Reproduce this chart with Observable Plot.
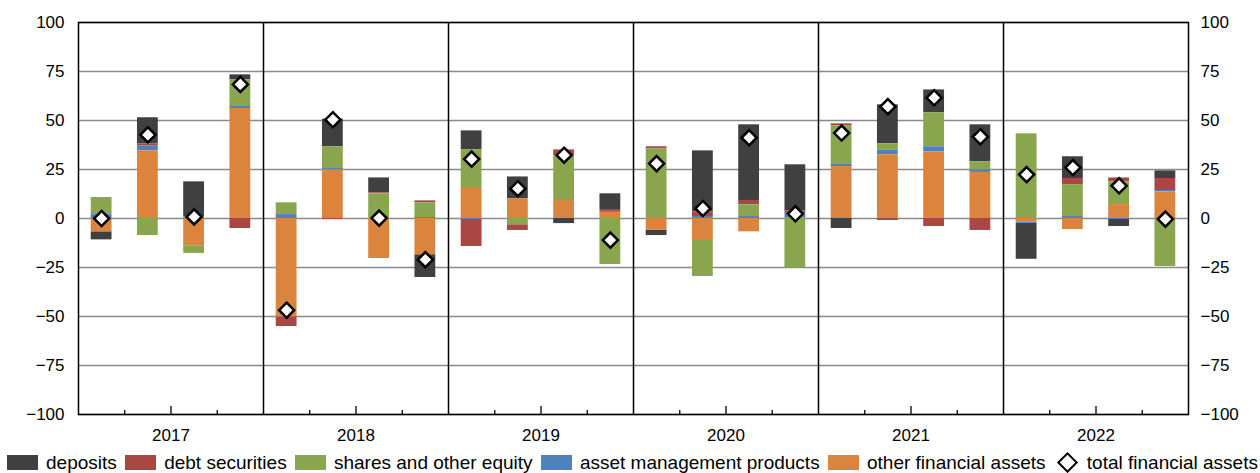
<!DOCTYPE html>
<html>
<head>
<meta charset="utf-8">
<script src="https://cdn.jsdelivr.net/npm/d3@7"></script>
<script src="https://cdn.jsdelivr.net/npm/@observablehq/plot@0.6"></script>
<style>
  html, body { margin: 0; padding: 0; background: #fff; }
  body { width: 1260px; height: 473px; overflow: hidden; font-family: 'Liberation Sans', Arial, sans-serif; }
  #legend { display: flex; justify-content: space-between; align-items: center; margin: 0 2px 0 7px; height: 21px; font-size: 19px; color: #000; white-space: nowrap; }
  .item { display: flex; align-items: center; }
  .sw { width: 31px; height: 15px; margin-right: 8px; display: inline-block; }
  .dia { width: 11px; height: 11px; border: 2px solid #000; transform: rotate(45deg); margin: 0 12px 0 6px; background: #fff; }
</style>
</head>
<body>
<div id="chart"></div>
<div id="legend"></div>
<script>
const years = [2017, 2018, 2019, 2020, 2021, 2022];
const quarters = ["Q1", "Q2", "Q3", "Q4"];
const seriesNames = ["deposits", "debt securities", "shares and other equity", "asset management products", "other financial assets"];
const seriesColors = ["#404040", "#aa4643", "#89a54e", "#4f81bd", "#db843d"];
const stackOrder = ["other financial assets", "asset management products", "shares and other equity", "debt securities", "deposits"];
const totalName = "total financial assets";
const yTicks = [-100, -75, -50, -25, 0, 25, 50, 75, 100];

const deposits = [-4.1, 13.3, 17.9, 2.6,   0, 14.1, 7.6, -11.6,   9.7, 11.2, -2.6, 8.0,   -2.6, 31.1, 38.6, 23.5,   -5.1, 19.9, 11.7, 18.9,   -18.3, 11.1, -3.6, 3.9];
const debtSecurities = [0, 1.2, 0, -5.1,   -4.9, -0.5, 0.5, 1.0,   -13.9, -2.9, 3.0, 1.0,   1.1, 2.4, 2.2, 1.3,   1.0, -1.0, -4.1, -6.1,   0, 3.1, 2.0, 6.1];
const shares = [8.7, -8.7, -3.9, 13.2,   6.0, 11.1, 12.3, 7.5,   19.7, -3.2, 22.8, -23.5,   35.5, -18.4, 6.0, -25.2,   19.4, 3.1, 17.3, 4.1,   43.2, 16.3, 11.6, -24.5];
const assetMgmt = [2.0, 2.4, 0.8, 1.4,   2.0, 0.7, 0.3, 0.5,   -0.4, 0, 0, 0.5,   -0.3, 1.0, 1.0, 2.1,   1.4, 2.5, 2.6, 1.3,   -0.5, 1.0, -0.5, 0.7];
const otherAssets = [-6.8, 34.5, -13.9, 56.1,   -50.2, 24.8, -20.4, -18.5,   15.3, 10.0, 9.2, 3.1,   -5.8, -11.2, -6.8, 0.5,   26.5, 32.5, 34.0, 23.5,   -2.0, -5.6, 7.1, 13.6];
const totals = [0.0, 42.7, 0.8, 68.4,   -46.8, 50.4, 0.2, -21.0,   30.3, 15.2, 32.3, -11.0,   28.0, 5.1, 41.2, 2.4,   43.6, 57.1, 61.6, 41.7,   22.4, 26.0, 16.7, -0.3];

const quarterKeys = years.flatMap(y => quarters.map(q => y + q));
const seriesValues = [deposits, debtSecurities, shares, assetMgmt, otherAssets];
const rows = [];
seriesNames.forEach((name, s) => {
  quarterKeys.forEach((q, i) => rows.push({q, series: name, value: seriesValues[s][i]}));
});
const totalRows = quarterKeys.map((q, i) => ({q, total: totals[i]}));

const W = 1260, H = 452, mL = 78, mR = 72, mT = 22, mB = 38;
const step = (W - mL - mR) / quarterKeys.length;
const innerH = H - mT - mB;

const chart = Plot.plot({
  width: W, height: H,
  marginLeft: mL, marginRight: mR, marginTop: mT, marginBottom: mB,
  style: {fontFamily: "'Liberation Sans', Arial, sans-serif", fontSize: "17px", color: "#000", background: "#fff", overflow: "visible"},
  x: {type: "band", domain: quarterKeys, paddingInner: 0.55, paddingOuter: 0.275, round: false, axis: null},
  y: {domain: [-100, 100], axis: null},
  color: {domain: seriesNames, range: seriesColors},
  marks: [
    Plot.ruleY(yTicks, {stroke: "#8a8a8a", strokeWidth: 1.4}),
    Plot.barY(rows, {x: "q", y: "value", fill: "series", order: stackOrder}),
    Plot.ruleX(years.slice(1).map(y => y + "Q1"), {x: d => d, dx: -step / 2, stroke: "#000", strokeWidth: 1.5}),
    Plot.ruleX(years.flatMap(y => [y + "Q1", y + "Q3"]), {x: d => d, dx: step / 2, insetTop: innerH - 4, stroke: "#000", strokeWidth: 1.3}),
    Plot.ruleX(years.map(y => y + "Q2"), {x: d => d, dx: step / 2, insetTop: innerH - 8, stroke: "#000", strokeWidth: 1.3}),
    Plot.frame({stroke: "#000", strokeWidth: 1.5}),
    Plot.axisY({anchor: "left", ticks: yTicks, tickSize: 0, tickPadding: 14}),
    Plot.axisY({anchor: "right", ticks: yTicks, tickSize: 0, tickPadding: 12}),
    Plot.text(years, {x: d => d + "Q2", dx: step / 2, frameAnchor: "bottom", dy: 26, text: d => String(d)}),
    Plot.dot(totalRows, {x: "q", y: "total", symbol: "diamond2", r: 6.8, fill: "#fff", stroke: "#000", strokeWidth: 2.5})
  ]
});
document.getElementById("chart").appendChild(chart);

const legend = document.getElementById("legend");
seriesNames.forEach((name, i) => {
  const it = document.createElement("div");
  it.className = "item";
  it.innerHTML = `<span class="sw" style="background:${seriesColors[i]}"></span><span>${name}</span>`;
  legend.appendChild(it);
});
const tot = document.createElement("div");
tot.className = "item";
tot.innerHTML = `<span class="dia"></span><span>${totalName}</span>`;
legend.appendChild(tot);
</script>
</body>
</html>
